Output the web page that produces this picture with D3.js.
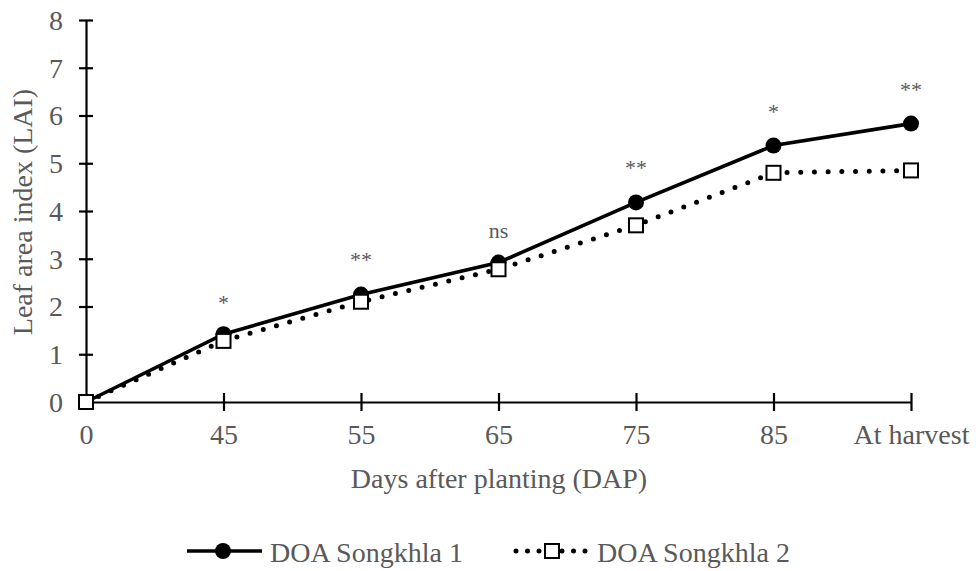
<!DOCTYPE html>
<html><head><meta charset="utf-8">
<script src="https://cdn.jsdelivr.net/npm/d3@7"></script>
<style>body{margin:0;background:#fff}svg{display:block}text{font-family:"Liberation Serif","Times New Roman",serif}</style>
</head><body>
<svg id="c" width="976" height="571"></svg>
<script>
const categories = ["0","45","55","65","75","85","At harvest"];
const series1 = [0, 1.42, 2.25, 2.92, 4.18, 5.37, 5.83];
const series2 = [0, 1.28, 2.10, 2.78, 3.70, 4.80, 4.85];
const signif = ["", "*", "**", "ns", "**", "*", "**"];
const sigY = [null, 1.93, 2.83, 3.43, 4.75, 5.93, 6.39];
const yTicks = [0,1,2,3,4,5,6,7,8];
const seriesNames = ["DOA Songkhla 1", "DOA Songkhla 2"];

const svg = d3.select("#c");
const x = d3.scalePoint().domain(categories).range([86, 911]);
const y = d3.scaleLinear().domain([0, 8]).range([402, 20]);
const grey = "#595959";
const fs = "28px";

// axes
const gy = svg.append("g").attr("transform","translate(86,0)")
  .call(d3.axisLeft(y).tickValues(yTicks).tickSize(0).tickPadding(23));
gy.select(".domain").attr("stroke","#000").attr("stroke-width",2.2);
gy.selectAll(".tick text").attr("fill",grey).style("font-size",fs).attr("dy","0.33em");
gy.selectAll(".tick").append("line").attr("x1",-7).attr("x2",7).attr("stroke","#000").attr("stroke-width",2.2);

const gx = svg.append("g").attr("transform","translate(0,402)")
  .call(d3.axisBottom(x).tickSize(0).tickPadding(22));
gx.select(".domain").attr("stroke","#000").attr("stroke-width",2.2);
gx.selectAll(".tick text").attr("fill",grey).style("font-size",fs);
gx.selectAll(".tick").filter((d,i)=>i>0).append("line").attr("y1",-9).attr("y2",9).attr("stroke","#000").attr("stroke-width",2.2);

svg.append("text").attr("x",499).attr("y",488).attr("text-anchor","middle")
  .attr("fill",grey).style("font-size",fs).text("Days after planting (DAP)");
svg.append("text").attr("transform","translate(32,212) rotate(-90)").attr("text-anchor","middle")
  .attr("fill",grey).style("font-size",fs).text("Leaf area index (LAI)");

const line = d3.line().x((d,i)=>x(categories[i])).y(d=>y(d));

// series 2 dotted
svg.append("path").datum(series2).attr("d",line).attr("fill","none")
  .attr("stroke","#000").attr("stroke-width",5).attr("stroke-linecap","round").attr("stroke-dasharray","0 13.7");
// series 1 solid
svg.append("path").datum(series1).attr("d",line).attr("fill","none")
  .attr("stroke","#000").attr("stroke-width",3.6);

svg.selectAll("circle.s1").data(series1).enter().append("circle")
  .attr("cx",(d,i)=>x(categories[i])).attr("cy",d=>y(d)).attr("r",8).attr("fill","#000");
svg.selectAll("rect.s2").data(series2).enter().append("rect")
  .attr("x",(d,i)=>x(categories[i])-7).attr("y",d=>y(d)-7).attr("width",14).attr("height",14)
  .attr("fill","#fff").attr("stroke","#000").attr("stroke-width",2);

svg.selectAll("text.sig").data(signif).enter().append("text")
  .attr("x",(d,i)=>x(categories[i])).attr("y",(d,i)=>sigY[i]==null?0:y(sigY[i]))
  .attr("text-anchor","middle").attr("fill",grey).style("font-size","22px").text(d=>d);

// legend
const lg = svg.append("g");
lg.append("line").attr("x1",187).attr("x2",262).attr("y1",551).attr("y2",551).attr("stroke","#000").attr("stroke-width",3.6);
lg.append("circle").attr("cx",223).attr("cy",551).attr("r",8).attr("fill","#000");
lg.append("text").attr("x",270).attr("y",562).attr("fill",grey).style("font-size",fs).text(seriesNames[0]);
lg.append("line").attr("x1",516).attr("x2",586).attr("y1",551).attr("y2",551).attr("stroke","#000").attr("stroke-width",5)
  .attr("stroke-linecap","round").attr("stroke-dasharray","0 11.5");
lg.append("rect").attr("x",545).attr("y",544).attr("width",14).attr("height",14).attr("fill","#fff").attr("stroke","#000").attr("stroke-width",2);
lg.append("text").attr("x",597).attr("y",562).attr("fill",grey).style("font-size",fs).text(seriesNames[1]);
</script>
</body></html>
